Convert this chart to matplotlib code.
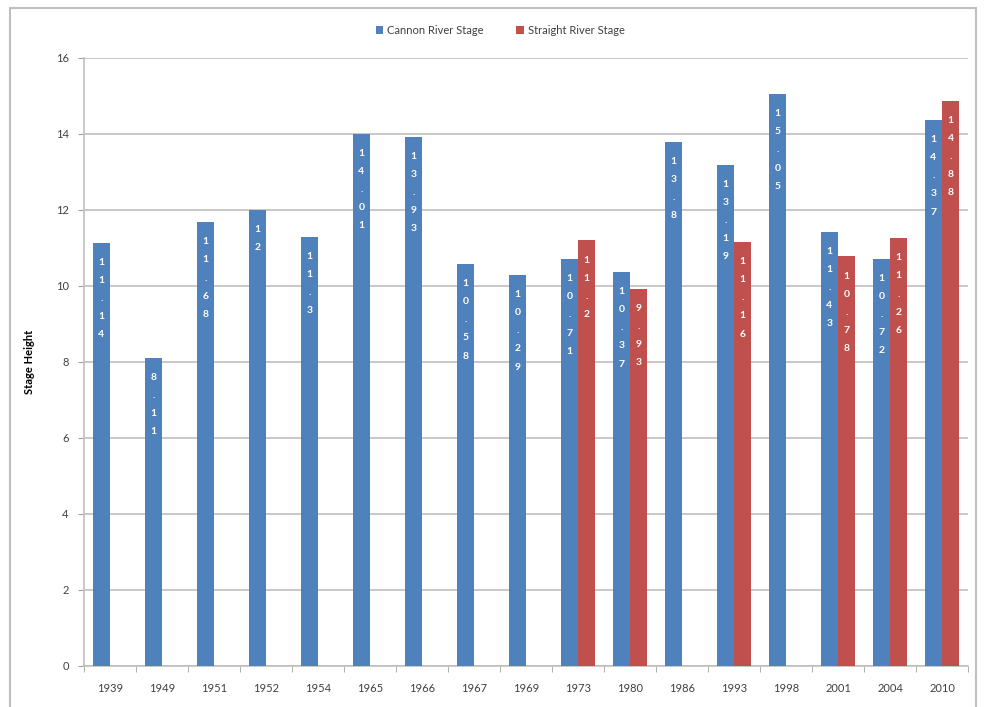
import matplotlib
matplotlib.use("Agg")
import matplotlib.pyplot as plt
import numpy as np
from matplotlib.patches import Rectangle

years = ["1939", "1949", "1951", "1952", "1954", "1965", "1966", "1967", "1969",
         "1973", "1980", "1986", "1993", "1998", "2001", "2004", "2010"]
cannon = [11.14, 8.11, 11.68, 12, 11.3, 14.01, 13.93, 10.58, 10.29,
          10.71, 10.37, 13.8, 13.19, 15.05, 11.43, 10.72, 14.37]
straight = [None, None, None, None, None, None, None, None, None,
            11.2, 9.93, None, 11.16, None, 10.78, 11.26, 14.88]
series_names = ["Cannon River Stage", "Straight River Stage"]
yticks = [0, 2, 4, 6, 8, 10, 12, 14, 16]

blue = "#4F81BD"
red = "#C0504D"
plt.rcParams['font.family'] = ['Lato', 'DejaVu Sans']

fig = plt.figure(figsize=(9.86, 7.07), dpi=100)
fig.patches.append(Rectangle((10/986, -0.01), (976-10)/986, (707-8)/707 + 0.01,
                             transform=fig.transFigure, fill=False,
                             edgecolor="#BFBFBF", linewidth=1.5))
ax = fig.add_axes([84/986, 41/707, (968-84)/986, (666-58)/707])

x = np.arange(len(years))
bw = 0.33

def fmt(v):
    s = ("%g" % v)
    return "\n".join(s)

for i, v in enumerate(cannon):
    ax.bar(x[i] - bw/2, v, bw, color=blue, zorder=3,
           label=series_names[0] if i == 0 else None)
    ax.text(x[i] - bw/2, v - 0.4, fmt(v), ha="center", va="top", color="white",
            fontsize=7.5, fontweight="bold", linespacing=2.3, zorder=4)
first = True
for i, v in enumerate(straight):
    if v is None:
        continue
    ax.bar(x[i] + bw/2, v, bw, color=red, zorder=3,
           label=series_names[1] if first else None)
    first = False
    ax.text(x[i] + bw/2, v - 0.4, fmt(v), ha="center", va="top", color="white",
            fontsize=7.5, fontweight="bold", linespacing=2.3, zorder=4)

ax.set_xlim(-0.5, len(years) - 0.5)
ax.set_ylim(0, 16)
ax.set_yticks(yticks)
ax.set_xticks(x)
ax.set_xticklabels(years)
ax.set_xticks(np.arange(-0.5, len(years), 1), minor=True)
ax.tick_params(axis="x", which="major", length=0, pad=12, labelsize=8, labelcolor="#404040")
ax.tick_params(axis="x", which="minor", length=4, color="#A0A0A0", direction="out")
ax.tick_params(axis="y", length=4, color="#A0A0A0", labelsize=8, labelcolor="#404040", pad=7)
ax.yaxis.grid(True, color="#BFBFBF", linewidth=1.2, zorder=0)
for s in ["top", "right"]:
    ax.spines[s].set_visible(False)
for s in ["left", "bottom"]:
    ax.spines[s].set_color("#BFBFBF")
    ax.spines[s].set_linewidth(1.2)
ax.set_ylabel("Stage Height", fontsize=8, fontweight="bold")
ax.yaxis.set_label_coords((35 - 84) / (968 - 84), 0.5)

fig.legend(loc="center", bbox_to_anchor=(500/986, 1 - 30/707), ncol=2, frameon=False,
           fontsize=8, handlelength=0.7, handleheight=0.7, handletextpad=0.3,
           columnspacing=3, labelcolor="#404040")

fig.savefig("out.png", dpi=100)
